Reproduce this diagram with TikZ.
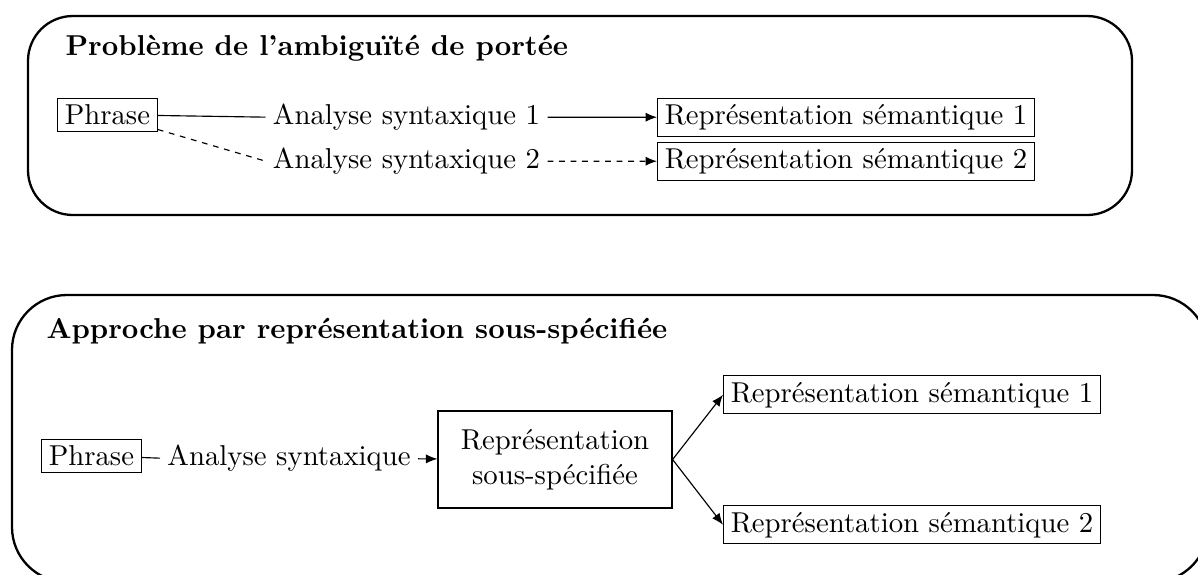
\documentclass[tikz,border=0pt]{standalone}
\usetikzlibrary{arrows.meta}
\begin{document}
\begin{tikzpicture}[x=0.3478pt,y=-0.3478pt,
  box/.style={draw, inner xsep=2.5pt, inner ysep=2.2pt},
  lbl/.style={inner xsep=2.4pt, inner ysep=2.2pt},
  ttl/.style={font=\bfseries, inner sep=0pt, anchor=base west},
  frame/.style={draw, thick},
  conn/.style={-{Latex[length=4pt,width=3.2pt]}},
  dashline/.style={dash pattern=on 2pt off 2pt},
]
\clip (0,0) rectangle (1198,574);
% top frame
\draw[frame, rounded corners=15.6pt] (28,16) rectangle (1132,215);
\node[ttl] (t1) at (65,55) {Problème de l’ambiguïté de portée};
\node[box, anchor=base west] (p1) at (57,124.5) {Phrase};
\node[lbl, anchor=base west] (a1) at (265.5,124.5) {Analyse syntaxique 1};
\node[box, anchor=base west] (r1) at (657,124.5) {Représentation sémantique 1};
\node[lbl, anchor=base west] (a2) at (265.5,168.5) {Analyse syntaxique 2};
\node[box, anchor=base west] (r2) at (657,168.5) {Représentation sémantique 2};
\draw (p1) -- (a1.west);
\draw[dashline] (p1) -- (a2.west);
\draw[conn] (a1) -- (r1);
\draw[conn, dashline] (a2) -- (r2);
% bottom frame
\draw[frame, rounded corners=19.1pt] (12,295) rectangle (1208,582);
\node[ttl] (t2) at (46,338) {Approche par représentation sous-spécifiée};
\node[box, anchor=base west] (p2) at (41,465.5) {Phrase};
\node[lbl, anchor=base west] (a3) at (160,465.5) {Analyse syntaxique};
\node[draw, align=center, minimum width=81.4pt, minimum height=33.7pt, inner sep=2pt] (rs) at (555,459.5) {Représentation\\sous-spécifiée};
\node[box, anchor=base west] (s1) at (723,402) {Représentation sémantique 1};
\node[box, anchor=base west] (s2) at (723,532) {Représentation sémantique 2};
\draw (p2) -- (a3.west);
\draw[conn] (a3) -- (rs);
\draw[conn] (rs.east) -- (s1.west);
\draw[conn] (rs.east) -- (s2.west);
\end{tikzpicture}
\end{document}
